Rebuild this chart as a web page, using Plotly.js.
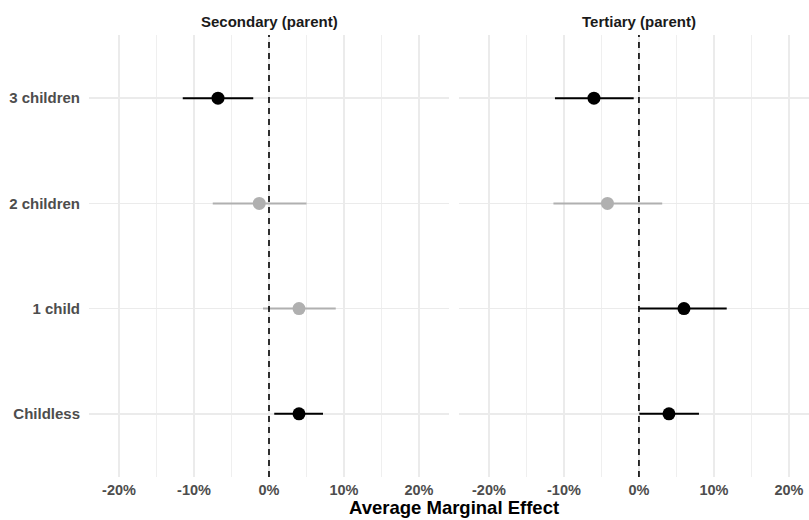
<!DOCTYPE html>
<html>
<head>
<meta charset="utf-8">
<script src="https://cdn.plot.ly/plotly-3.0.1.min.js"></script>
<style>html,body{margin:0;padding:0;background:#fff;}#chart{width:809px;height:520px;}</style>
</head>
<body>
<div id="chart"></div>
<script>
// ---- data ----
const categories = ["Childless", "1 child", "2 children", "3 children"];
const panelTitles = ["Secondary (parent)", "Tertiary (parent)"];
// Average marginal effects, in percent
const secEst  = [4.0, 4.0, -1.3, -6.8];
const secLow  = [0.7, -0.8, -7.5, -11.5];
const secHigh = [7.2, 8.9, 5.0, -2.1];
const secSig  = [true, false, false, true];

const terEst  = [4.0, 6.0, -4.2, -6.0];
const terLow  = [0.05, 0.05, -11.4, -11.2];
const terHigh = [8.0, 11.7, 3.1, -0.7];
const terSig  = [true, true, false, true];

const tickVals = [-20, -10, 0, 10, 20];
const tickText = ["-20%", "-10%", "0%", "10%", "20%"];
const refValue = 0;
const xTitle = "Average Marginal Effect";

// ---- build traces ----
const FONT = "Liberation Sans, Arial, Helvetica, sans-serif";
const BLACK = "#000000";
const GREY = "#b0b0b0";

function panelTraces(est, low, high, sig, xa, ya) {
  const out = [];
  [false, true].forEach(function (s) {
    const idx = [];
    for (let i = 0; i < est.length; i++) if (sig[i] === s) idx.push(i);
    const col = s ? BLACK : GREY;
    out.push({
      type: "scatter",
      mode: "markers",
      x: idx.map(i => est[i]),
      y: idx.map(i => categories[i]),
      xaxis: xa, yaxis: ya,
      marker: {color: col, size: 13, line: {width: 0}},
      error_x: {
        type: "data", symmetric: false,
        array: idx.map(i => high[i] - est[i]),
        arrayminus: idx.map(i => est[i] - low[i]),
        color: col, thickness: 2, width: 0
      },
      showlegend: false,
      hoverinfo: "x+y"
    });
  });
  return out;
}

const data = []
  .concat(panelTraces(secEst, secLow, secHigh, secSig, "x", "y"))
  .concat(panelTraces(terEst, terLow, terHigh, terSig, "x2", "y2"));

const gridCol = "#ebebeb";
function xaxisDef(domain, range) {
  return {
    domain: domain, range: range,
    tickvals: tickVals, ticktext: tickText,
    showgrid: true, gridcolor: gridCol, gridwidth: 1.6,
    minor: {dtick: 5, tick0: 5, showgrid: true, gridcolor: gridCol, gridwidth: 0.8},
    zeroline: false, showline: false, ticks: "",
    tickfont: {family: FONT, size: 14.5, color: "#4d4d4d", weight: "bold"},
    ticklabelstandoff: 2,
    fixedrange: true
  };
}
function yaxisDef(anchor, showLabels) {
  return {
    anchor: anchor, domain: [0, 1],
    type: "category", categoryorder: "array", categoryarray: categories,
    range: [-0.6, 3.6],
    showgrid: true, gridcolor: gridCol, gridwidth: 1.6,
    zeroline: false, showline: false, ticks: "",
    showticklabels: showLabels,
    tickfont: {family: FONT, size: 15, color: "#4d4d4d", weight: "bold"},
    ticklabelstandoff: 8,
    fixedrange: true
  };
}

const layout = {
  width: 809, height: 520,
  margin: {l: 89, r: 0, t: 35, b: 43, pad: 0},
  paper_bgcolor: "#ffffff", plot_bgcolor: "#ffffff",
  font: {family: FONT},
  xaxis: Object.assign(xaxisDef([0, 0.5], [-24, 24]), {anchor: "y"}),
  xaxis2: Object.assign(xaxisDef([0.5138, 1], [-24, 22.67]), {anchor: "y2"}),
  yaxis: yaxisDef("x", true),
  yaxis2: yaxisDef("x2", false),
  shapes: [
    {type: "line", xref: "x", yref: "y domain", x0: refValue, x1: refValue, y0: 0, y1: 1,
     line: {color: BLACK, width: 1.6, dash: "6px,5px"}, layer: "above"},
    {type: "line", xref: "x2", yref: "y2 domain", x0: refValue, x1: refValue, y0: 0, y1: 1,
     line: {color: BLACK, width: 1.6, dash: "6px,5px"}, layer: "above"}
  ],
  annotations: [
    {text: panelTitles[0], xref: "x", x: 0, yref: "paper", y: 1.03, xanchor: "center", yanchor: "middle",
     showarrow: false, font: {family: FONT, size: 15, color: "#1a1a1a", weight: "bold"}},
    {text: panelTitles[1], xref: "x2", x: 0, yref: "paper", y: 1.03, xanchor: "center", yanchor: "middle",
     showarrow: false, font: {family: FONT, size: 15, color: "#1a1a1a", weight: "bold"}},
    {text: xTitle, xref: "paper", x: 0.507, yref: "paper", y: -0.068, xanchor: "center", yanchor: "middle",
     showarrow: false, borderpad: 0, font: {family: FONT, size: 18.5, color: "#000000", weight: "bold"}}
  ]
};

Plotly.newPlot("chart", data, layout, {displayModeBar: false, staticPlot: true});
</script>
</body>
</html>
